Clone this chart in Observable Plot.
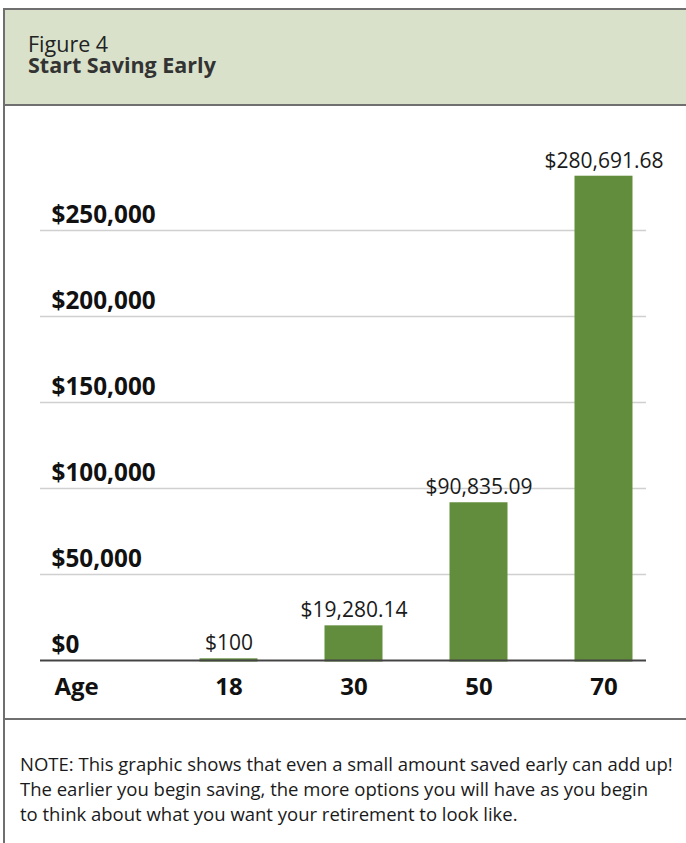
<!DOCTYPE html>
<html>
<head>
<meta charset="utf-8">
<script src="https://cdn.jsdelivr.net/npm/d3@7"></script>
<script src="https://cdn.jsdelivr.net/npm/@observablehq/plot@0.6"></script>
<style>
  html, body { margin: 0; padding: 0; background: #fff; overflow: hidden; }
  body { width: 686px; height: 843px; position: relative; font-family: "Open Sans", sans-serif; color: #1a1a1a; }
  #frame { position: absolute; left: 3px; top: 8px; width: 700px; height: 900px; border: 2px solid #6f6f6f; box-sizing: border-box; }
  #header { position: absolute; left: 5px; top: 10px; width: 700px; height: 94px; background: #d9e1cb; border-bottom: 2px solid #6f6f6f; }
  #heading { position: absolute; left: 28px; top: 33px; width: 400px; font-size: 21.5px; line-height: 21px; font-weight: 700; color: #333; white-space: pre; }
  #heading::first-line { font-weight: 400; color: #222; }
  #chart { position: absolute; left: 0; top: 106px; }
  #divider { position: absolute; left: 5px; top: 718px; width: 700px; height: 0; border-top: 2px solid #6f6f6f; }
  #note { position: absolute; left: 20px; top: 751px; width: 680px; font-size: 18.5px; line-height: 25px; color: #1a1a1a; white-space: nowrap; }
</style>
</head>
<body>
<div id="frame"></div>
<div id="header"></div>
<div id="heading">Figure 4
Start Saving Early</div>
<div id="chart"></div>
<div id="divider"></div>
<div id="note">NOTE: This graphic shows that even a small amount saved early can add up!<br>The earlier you begin saving, the more options you will have as you begin<br>to think about what you want your retirement to look like.</div>
<script>
const ages = ["18", "30", "50", "70"];
const savings = [100, 19280.14, 90835.09, 280691.68];
const yTicks = [0, 50000, 100000, 150000, 200000, 250000];
const yTickLabels = ["$0", "$50,000", "$100,000", "$150,000", "$200,000", "$250,000"];
const xAxisTitle = "Age";

const data = ages.map((a, i) => ({age: a, value: savings[i]}));
const ticks = yTicks.map((v, i) => ({value: v, label: yTickLabels[i]}));
const fmt = d3.format(",");

const chart = Plot.plot({
  width: 686,
  height: 612,
  marginLeft: 40,
  marginRight: 40,
  marginTop: 38,
  marginBottom: 58,
  style: {fontFamily: "'Open Sans', sans-serif", background: "transparent", overflow: "visible"},
  x: {domain: ages, range: [200.5, 631.5], paddingInner: 0.561, paddingOuter: 0, label: null},
  y: {domain: [0, 300000], axis: null},
  marks: [
    Plot.ruleY(yTicks.filter(v => v > 0), {stroke: "#d0d0d0", strokeWidth: 1.5}),
    Plot.barY(data, {x: "age", y: "value", fill: "#628d3c", stroke: "#628d3c", strokeWidth: 3}),
    Plot.ruleY([0], {stroke: "#444", strokeWidth: 2}),
    Plot.text(ticks, {y: "value", text: "label", frameAnchor: "left", dx: 11, dy: -8, textAnchor: "start", lineAnchor: "bottom", fontSize: 24.3, fontWeight: 700, fill: "#111"}),
    Plot.text(data, {x: "age", y: "value", text: d => "$" + fmt(d.value), dy: -10, lineAnchor: "bottom", fontSize: 21, fill: "#1a1a1a"}),
    Plot.axisX({tickSize: 0, tickPadding: 17, fontSize: 24, fontWeight: 700, fill: "#111", label: null}),
    Plot.text([xAxisTitle], {frameAnchor: "bottom-left", dx: 14, dy: 17, textAnchor: "start", lineAnchor: "top", fontSize: 24, fontWeight: 700, fill: "#111"})
  ]
});
document.getElementById("chart").appendChild(chart);
</script>
</body>
</html>
